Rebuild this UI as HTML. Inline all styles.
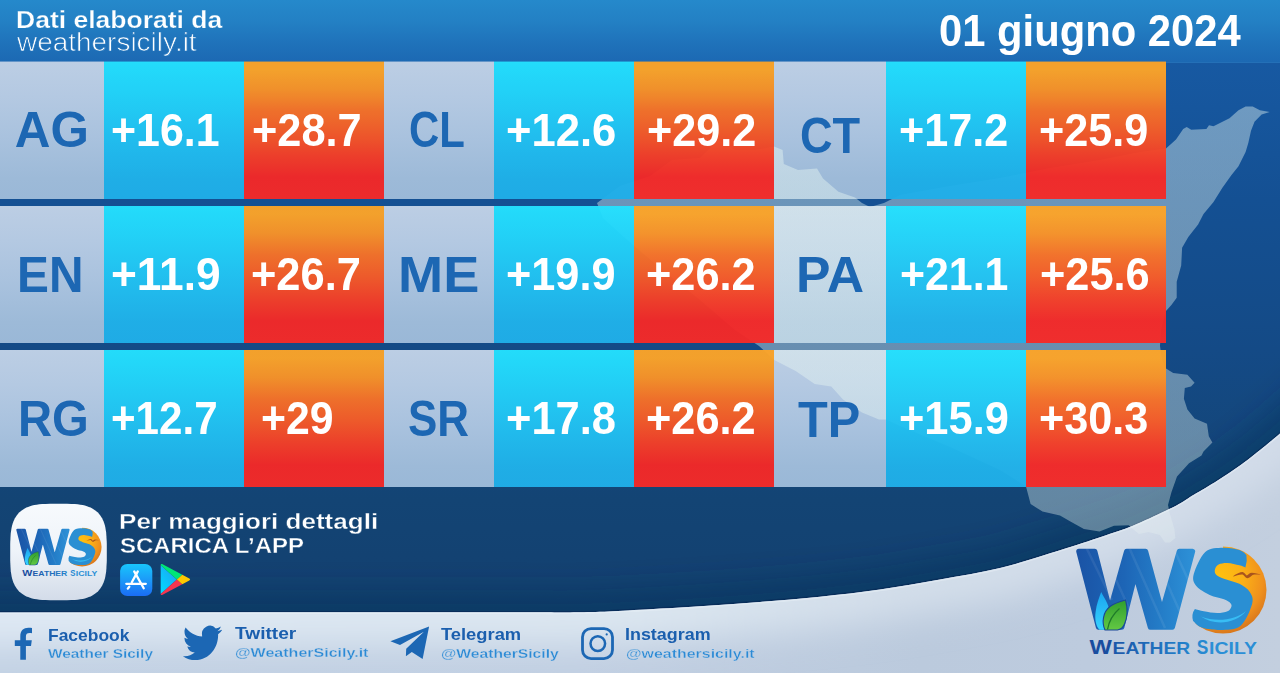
<!DOCTYPE html>
<html><head><meta charset="utf-8"><title>Weather Sicily</title>
<style>
html,body{margin:0;padding:0}
body{width:1280px;height:673px;position:relative;overflow:hidden;font-family:"Liberation Sans",sans-serif;
background:linear-gradient(180deg,#1759a2 0,#1759a2 62px,#145093 200px,#144a86 350px,#134474 500px,#134070 612px,#134070 100%)}
.abs{position:absolute;left:0;top:0}
#hdr{position:absolute;left:0;top:0;width:1280px;height:62px;border-bottom:1px solid #2470b7;background:linear-gradient(180deg,#2589cb 0,#2380c4 35%,#1f72ba 70%,#1c69b3 100%)}
.c{position:absolute;height:137px}
.c.l.r1{box-shadow:0 -1px 0 0 rgba(188,205,226,.45)}
.c.b.r1{box-shadow:0 -1px 0 0 rgba(35,220,251,.45)}
.c.o.r1{box-shadow:0 -1px 0 0 rgba(243,161,44,.45)}
.c.l{background:linear-gradient(180deg,#bccee4 0,#b4c9e2 25%,#a9c2de 55%,#9dbad8 85%,#9ab8d7 100%)}
.c.b{background:linear-gradient(180deg,#24e2ff 0,#23d7fb 20%,#22c2f2 55%,#20b2ea 85%,#20afe9 100%);opacity:0.96}
.c.o{background:linear-gradient(180deg,#fca428 0,#fca428 6%,#f99327 20%,#f77127 36%,#f65a27 52%,#f53f27 68%,#f42827 84%,#f52a28 100%);opacity:0.96}
.t{position:absolute;white-space:pre;line-height:1;font-weight:bold;transform-origin:0 0}
.lab{color:#1d67b3}
.val,.w{color:#fff}
.n{font-weight:normal}
.e1{-webkit-text-stroke:.25px #2380c4}
.e2{-webkit-text-stroke:.7px #1f73bb}
.e3{-webkit-text-stroke:.35px #134373}
.s1{color:#1b5fae}
.s2{color:#2b8ad5;-webkit-text-stroke:.3px #cad8e8}
</style></head><body>
<svg class="abs" width="1280" height="673" viewBox="0 0 1280 673">
<defs>
<linearGradient id="sw" x1="0" y1="0" x2="1280" y2="0" gradientUnits="userSpaceOnUse">
<stop offset="0" stop-color="#c3d2e4"/><stop offset=".45" stop-color="#c1cfe2"/><stop offset=".72" stop-color="#bbcadd"/><stop offset=".85" stop-color="#bdcbde"/><stop offset="1" stop-color="#c3cfdf"/></linearGradient>
<linearGradient id="gl" x1="0" y1="0" x2="1280" y2="0" gradientUnits="userSpaceOnUse"><stop offset="0" stop-color="#dfe9f4"/><stop offset=".5" stop-color="#dbe6f0"/><stop offset=".7" stop-color="#d3deea"/><stop offset="1" stop-color="#d2dce9"/></linearGradient>
<clipPath id="swc"><path d="M0,612.4 L540,612.3 C545.0,612.4 560.0,612.5 570,612.4 C580.0,612.3 588.3,612.2 600,611.8 C611.7,611.4 623.3,610.7 640,609.75 C656.7,608.8 680.0,607.5 700,606.2 C720.0,604.9 740.0,603.5 760,601.9 C780.0,600.3 800.0,598.8 820,596.7 C840.0,594.6 860.0,592.4 880,589.5 C900.0,586.6 920.0,583.1 940,579.5 C960.0,575.9 980.0,572.9 1000,568 C1020.0,563.1 1043.1,555.4 1060,550.2 C1076.9,545.0 1089.5,540.8 1101.6,536.7 C1113.7,532.6 1122.4,530.0 1132.8,525.75 C1143.2,521.5 1156.1,515.2 1164,511.5 C1171.9,507.8 1175.0,506.3 1180,503.5 C1185.0,500.7 1187.5,498.6 1193.8,494.8 C1200.1,491.0 1209.7,485.6 1217.6,480.5 C1225.5,475.4 1233.5,470.2 1241.4,464.5 C1249.3,458.8 1258.7,451.1 1265.1,446 C1271.5,440.9 1277.5,435.7 1280,433.6 L1280,673 L0,673 Z"/></clipPath>
<filter id="bl" x="-5%" y="-50%" width="110%" height="200%"><feGaussianBlur stdDeviation="17"/></filter>
<filter id="bl2" x="-5%" y="-50%" width="110%" height="200%"><feGaussianBlur stdDeviation="14"/></filter>
</defs>
<path d="M-60,612.4 L540,612.3 C545.0,612.4 560.0,612.5 570,612.4 C580.0,612.3 588.3,612.2 600,611.8 C611.7,611.4 623.3,610.7 640,609.75 C656.7,608.8 680.0,607.5 700,606.2 C720.0,604.9 740.0,603.5 760,601.9 C780.0,600.3 800.0,598.8 820,596.7 C840.0,594.6 860.0,592.4 880,589.5 C900.0,586.6 920.0,583.1 940,579.5 C960.0,575.9 980.0,572.9 1000,568 C1020.0,563.1 1043.1,555.4 1060,550.2 C1076.9,545.0 1089.5,540.8 1101.6,536.7 C1113.7,532.6 1122.4,530.0 1132.8,525.75 C1143.2,521.5 1156.1,515.2 1164,511.5 C1171.9,507.8 1175.0,506.3 1180,503.5 C1185.0,500.7 1187.5,498.6 1193.8,494.8 C1200.1,491.0 1209.7,485.6 1217.6,480.5 C1225.5,475.4 1233.5,470.2 1241.4,464.5 C1249.3,458.8 1258.7,451.1 1265.1,446 C1271.5,440.9 1277.5,435.7 1280,433.6 L1340,380" fill="none" stroke="#0c2d55" stroke-opacity=".4" stroke-width="44" filter="url(#bl2)"/>
<path d="M-60,612.4 L540,612.3 C545.0,612.4 560.0,612.5 570,612.4 C580.0,612.3 588.3,612.2 600,611.8 C611.7,611.4 623.3,610.7 640,609.75 C656.7,608.8 680.0,607.5 700,606.2 C720.0,604.9 740.0,603.5 760,601.9 C780.0,600.3 800.0,598.8 820,596.7 C840.0,594.6 860.0,592.4 880,589.5 C900.0,586.6 920.0,583.1 940,579.5 C960.0,575.9 980.0,572.9 1000,568 C1020.0,563.1 1043.1,555.4 1060,550.2 C1076.9,545.0 1089.5,540.8 1101.6,536.7 C1113.7,532.6 1122.4,530.0 1132.8,525.75 C1143.2,521.5 1156.1,515.2 1164,511.5 C1171.9,507.8 1175.0,506.3 1180,503.5 C1185.0,500.7 1187.5,498.6 1193.8,494.8 C1200.1,491.0 1209.7,485.6 1217.6,480.5 C1225.5,475.4 1233.5,470.2 1241.4,464.5 C1249.3,458.8 1258.7,451.1 1265.1,446 C1271.5,440.9 1277.5,435.7 1280,433.6 L1340,380" fill="none" stroke="#082a57" stroke-opacity=".8" stroke-width="1.8" transform="translate(0,-0.5)"/>
<path d="M0,612.4 L540,612.3 C545.0,612.4 560.0,612.5 570,612.4 C580.0,612.3 588.3,612.2 600,611.8 C611.7,611.4 623.3,610.7 640,609.75 C656.7,608.8 680.0,607.5 700,606.2 C720.0,604.9 740.0,603.5 760,601.9 C780.0,600.3 800.0,598.8 820,596.7 C840.0,594.6 860.0,592.4 880,589.5 C900.0,586.6 920.0,583.1 940,579.5 C960.0,575.9 980.0,572.9 1000,568 C1020.0,563.1 1043.1,555.4 1060,550.2 C1076.9,545.0 1089.5,540.8 1101.6,536.7 C1113.7,532.6 1122.4,530.0 1132.8,525.75 C1143.2,521.5 1156.1,515.2 1164,511.5 C1171.9,507.8 1175.0,506.3 1180,503.5 C1185.0,500.7 1187.5,498.6 1193.8,494.8 C1200.1,491.0 1209.7,485.6 1217.6,480.5 C1225.5,475.4 1233.5,470.2 1241.4,464.5 C1249.3,458.8 1258.7,451.1 1265.1,446 C1271.5,440.9 1277.5,435.7 1280,433.6 L1280,673 L0,673 Z" fill="url(#sw)"/>
<g clip-path="url(#swc)"><path d="M-60,612.4 L540,612.3 C545.0,612.4 560.0,612.5 570,612.4 C580.0,612.3 588.3,612.2 600,611.8 C611.7,611.4 623.3,610.7 640,609.75 C656.7,608.8 680.0,607.5 700,606.2 C720.0,604.9 740.0,603.5 760,601.9 C780.0,600.3 800.0,598.8 820,596.7 C840.0,594.6 860.0,592.4 880,589.5 C900.0,586.6 920.0,583.1 940,579.5 C960.0,575.9 980.0,572.9 1000,568 C1020.0,563.1 1043.1,555.4 1060,550.2 C1076.9,545.0 1089.5,540.8 1101.6,536.7 C1113.7,532.6 1122.4,530.0 1132.8,525.75 C1143.2,521.5 1156.1,515.2 1164,511.5 C1171.9,507.8 1175.0,506.3 1180,503.5 C1185.0,500.7 1187.5,498.6 1193.8,494.8 C1200.1,491.0 1209.7,485.6 1217.6,480.5 C1225.5,475.4 1233.5,470.2 1241.4,464.5 C1249.3,458.8 1258.7,451.1 1265.1,446 C1271.5,440.9 1277.5,435.7 1280,433.6 L1340,380" fill="none" stroke="url(#gl)" stroke-width="64" filter="url(#bl)"/><path d="M-60,612.4 L540,612.3 C545.0,612.4 560.0,612.5 570,612.4 C580.0,612.3 588.3,612.2 600,611.8 C611.7,611.4 623.3,610.7 640,609.75 C656.7,608.8 680.0,607.5 700,606.2 C720.0,604.9 740.0,603.5 760,601.9 C780.0,600.3 800.0,598.8 820,596.7 C840.0,594.6 860.0,592.4 880,589.5 C900.0,586.6 920.0,583.1 940,579.5 C960.0,575.9 980.0,572.9 1000,568 C1020.0,563.1 1043.1,555.4 1060,550.2 C1076.9,545.0 1089.5,540.8 1101.6,536.7 C1113.7,532.6 1122.4,530.0 1132.8,525.75 C1143.2,521.5 1156.1,515.2 1164,511.5 C1171.9,507.8 1175.0,506.3 1180,503.5 C1185.0,500.7 1187.5,498.6 1193.8,494.8 C1200.1,491.0 1209.7,485.6 1217.6,480.5 C1225.5,475.4 1233.5,470.2 1241.4,464.5 C1249.3,458.8 1258.7,451.1 1265.1,446 C1271.5,440.9 1277.5,435.7 1280,433.6 L1340,380" fill="none" stroke="#eef4fa" stroke-opacity=".4" stroke-width="1.6" transform="translate(0,0.9)"/></g>
</svg>
<div id="hdr"></div>
<div class="c l r1" style="left:0px;top:62px;width:104px"></div>
<div class="c l r1" style="left:384px;top:62px;width:110px"></div>
<div class="c l r1" style="left:774px;top:62px;width:112px"></div>
<div class="c l" style="left:0px;top:206px;width:104px"></div>
<div class="c l" style="left:384px;top:206px;width:110px"></div>
<div class="c l" style="left:774px;top:206px;width:112px"></div>
<div class="c l" style="left:0px;top:350px;width:104px"></div>
<div class="c l" style="left:384px;top:350px;width:110px"></div>
<div class="c l" style="left:774px;top:350px;width:112px"></div>
<svg class="abs" width="1280" height="673" viewBox="0 0 1280 673"><defs><linearGradient id="gm" x1="0" y1="108" x2="0" y2="543" gradientUnits="userSpaceOnUse"><stop offset="0" stop-color="#eefcf4" stop-opacity=".41"/><stop offset="1" stop-color="#eefcf4" stop-opacity=".36"/></linearGradient></defs><clipPath id="nsw"><path d="M-60,612.4 L540,612.3 C545.0,612.4 560.0,612.5 570,612.4 C580.0,612.3 588.3,612.2 600,611.8 C611.7,611.4 623.3,610.7 640,609.75 C656.7,608.8 680.0,607.5 700,606.2 C720.0,604.9 740.0,603.5 760,601.9 C780.0,600.3 800.0,598.8 820,596.7 C840.0,594.6 860.0,592.4 880,589.5 C900.0,586.6 920.0,583.1 940,579.5 C960.0,575.9 980.0,572.9 1000,568 C1020.0,563.1 1043.1,555.4 1060,550.2 C1076.9,545.0 1089.5,540.8 1101.6,536.7 C1113.7,532.6 1122.4,530.0 1132.8,525.75 C1143.2,521.5 1156.1,515.2 1164,511.5 C1171.9,507.8 1175.0,506.3 1180,503.5 C1185.0,500.7 1187.5,498.6 1193.8,494.8 C1200.1,491.0 1209.7,485.6 1217.6,480.5 C1225.5,475.4 1233.5,470.2 1241.4,464.5 C1249.3,458.8 1258.7,451.1 1265.1,446 C1271.5,440.9 1277.5,435.7 1280,433.6 L1340,380 L1340,-10 L-60,-10 Z"/></clipPath><clipPath id="swc2"><path d="M0,612.4 L540,612.3 C545.0,612.4 560.0,612.5 570,612.4 C580.0,612.3 588.3,612.2 600,611.8 C611.7,611.4 623.3,610.7 640,609.75 C656.7,608.8 680.0,607.5 700,606.2 C720.0,604.9 740.0,603.5 760,601.9 C780.0,600.3 800.0,598.8 820,596.7 C840.0,594.6 860.0,592.4 880,589.5 C900.0,586.6 920.0,583.1 940,579.5 C960.0,575.9 980.0,572.9 1000,568 C1020.0,563.1 1043.1,555.4 1060,550.2 C1076.9,545.0 1089.5,540.8 1101.6,536.7 C1113.7,532.6 1122.4,530.0 1132.8,525.75 C1143.2,521.5 1156.1,515.2 1164,511.5 C1171.9,507.8 1175.0,506.3 1180,503.5 C1185.0,500.7 1187.5,498.6 1193.8,494.8 C1200.1,491.0 1209.7,485.6 1217.6,480.5 C1225.5,475.4 1233.5,470.2 1241.4,464.5 C1249.3,458.8 1258.7,451.1 1265.1,446 C1271.5,440.9 1277.5,435.7 1280,433.6 L1280,673 L0,673 Z"/></clipPath><polygon points="597,203 620,186 650,176 672,160 700,158 718,140 735,150 755,150 774,146.5 782.6,150 783.8,164 798,170 817,168.6 823,178.6 838.4,191.7 855,197.6 862,203 870,207 884,203 900,195 950,186 1000,178 1050,168 1100,160 1140,152 1166,148.5 1176,139.6 1183.2,128.9 1186.7,127.1 1191.2,129.8 1206.4,128.9 1209,125.3 1213.5,126.2 1229.5,118.2 1238.5,110.2 1245.6,106.6 1252.7,106.6 1259.9,110.2 1269.7,111.9 1261.6,114.6 1254.5,121.7 1251,130.7 1248.3,143.1 1245.6,152 1238.5,166.3 1231.3,175.2 1222.4,187.7 1213.5,202 1203.5,213.9 1198.1,224.6 1188.3,237.1 1182.1,247.8 1181.2,265.6 1176.7,281.7 1176.7,297.7 1171.4,304.9 1166,311.1 1161,330 1160,346 1162,360 1166,368.5 1173.2,373 1187.4,374.8 1194.6,382.8 1191,386.4 1184.8,388.1 1183.9,398.8 1187.4,409.5 1194.6,418.5 1207,423.8 1208.8,436.3 1212.4,442.5 1203.5,451.4 1201.5,455.6 1189,463.3 1177,476.4 1171.5,492 1168,505 1170,514.3 1174.4,528.9 1175.4,538 1170,542.4 1165,542.4 1159.8,535 1148.4,532 1139,534 1132.8,528.9 1128.6,525.2 1114,525.75 1099.5,531.5 1083.9,528.9 1070.4,521.6 1060,515.4 1042.5,511.6 1030.6,504 1026,486.4 1000,470 950,447 900,426 886,419.6 879,419.6 862,412.5 843,399.4 831.3,386.4 814.7,384 795.7,371 774.3,360 759,346 735,330 700,300 660,268 625,238 603,218" fill="url(#gm)" clip-path="url(#nsw)"/><polygon points="597,203 620,186 650,176 672,160 700,158 718,140 735,150 755,150 774,146.5 782.6,150 783.8,164 798,170 817,168.6 823,178.6 838.4,191.7 855,197.6 862,203 870,207 884,203 900,195 950,186 1000,178 1050,168 1100,160 1140,152 1166,148.5 1176,139.6 1183.2,128.9 1186.7,127.1 1191.2,129.8 1206.4,128.9 1209,125.3 1213.5,126.2 1229.5,118.2 1238.5,110.2 1245.6,106.6 1252.7,106.6 1259.9,110.2 1269.7,111.9 1261.6,114.6 1254.5,121.7 1251,130.7 1248.3,143.1 1245.6,152 1238.5,166.3 1231.3,175.2 1222.4,187.7 1213.5,202 1203.5,213.9 1198.1,224.6 1188.3,237.1 1182.1,247.8 1181.2,265.6 1176.7,281.7 1176.7,297.7 1171.4,304.9 1166,311.1 1161,330 1160,346 1162,360 1166,368.5 1173.2,373 1187.4,374.8 1194.6,382.8 1191,386.4 1184.8,388.1 1183.9,398.8 1187.4,409.5 1194.6,418.5 1207,423.8 1208.8,436.3 1212.4,442.5 1203.5,451.4 1201.5,455.6 1189,463.3 1177,476.4 1171.5,492 1168,505 1170,514.3 1174.4,528.9 1175.4,538 1170,542.4 1165,542.4 1159.8,535 1148.4,532 1139,534 1132.8,528.9 1128.6,525.2 1114,525.75 1099.5,531.5 1083.9,528.9 1070.4,521.6 1060,515.4 1042.5,511.6 1030.6,504 1026,486.4 1000,470 950,447 900,426 886,419.6 879,419.6 862,412.5 843,399.4 831.3,386.4 814.7,384 795.7,371 774.3,360 759,346 735,330 700,300 660,268 625,238 603,218" fill="#f4fbf8" fill-opacity=".24" clip-path="url(#swc2)"/></svg>
<div class="c b r1" style="left:104px;top:62px;width:140px"></div>
<div class="c o r1" style="left:244px;top:62px;width:140px"></div>
<div class="c b r1" style="left:494px;top:62px;width:140px"></div>
<div class="c o r1" style="left:634px;top:62px;width:140px"></div>
<div class="c b r1" style="left:886px;top:62px;width:140px"></div>
<div class="c o r1" style="left:1026px;top:62px;width:140px"></div>
<div class="c b" style="left:104px;top:206px;width:140px"></div>
<div class="c o" style="left:244px;top:206px;width:140px"></div>
<div class="c b" style="left:494px;top:206px;width:140px"></div>
<div class="c o" style="left:634px;top:206px;width:140px"></div>
<div class="c b" style="left:886px;top:206px;width:140px"></div>
<div class="c o" style="left:1026px;top:206px;width:140px"></div>
<div class="c b" style="left:104px;top:350px;width:140px"></div>
<div class="c o" style="left:244px;top:350px;width:140px"></div>
<div class="c b" style="left:494px;top:350px;width:140px"></div>
<div class="c o" style="left:634px;top:350px;width:140px"></div>
<div class="c b" style="left:886px;top:350px;width:140px"></div>
<div class="c o" style="left:1026px;top:350px;width:140px"></div>
<svg class="abs" width="1280" height="673" viewBox="0 0 1280 673">
<defs>
<linearGradient id="gw" x1="1076" y1="0" x2="1196" y2="0" gradientUnits="userSpaceOnUse">
<stop offset="0" stop-color="#1a53a5"/><stop offset=".4" stop-color="#1d65b6"/><stop offset=".75" stop-color="#2580ca"/><stop offset="1" stop-color="#2e92d8"/></linearGradient>
<radialGradient id="gsun" cx="1218" cy="578" r="56" gradientUnits="userSpaceOnUse">
<stop offset="0" stop-color="#ffc20e"/><stop offset=".45" stop-color="#fbb017"/><stop offset=".8" stop-color="#f0911d"/><stop offset="1" stop-color="#d9781c"/></radialGradient>
<linearGradient id="gtx" x1="0" y1="0" x2="1" y2="0"><stop offset="0" stop-color="#1b57a9"/><stop offset="1" stop-color="#2383cc"/></linearGradient>
<linearGradient id="gleaf" x1="0" y1="600" x2="0" y2="630" gradientUnits="userSpaceOnUse">
<stop offset="0" stop-color="#2f9e2e"/><stop offset="1" stop-color="#63c843"/></linearGradient>
<linearGradient id="gdrop" x1="0" y1="592" x2="0" y2="630" gradientUnits="userSpaceOnUse">
<stop offset="0" stop-color="#1aa6f0"/><stop offset="1" stop-color="#37d3ff"/></linearGradient>
<linearGradient id="gas" x1="0" y1="0" x2="0" y2="1"><stop offset="0" stop-color="#18c6fc"/><stop offset=".5" stop-color="#1c9af8"/><stop offset="1" stop-color="#1a6cf4"/></linearGradient>
<linearGradient id="gapp" x1="0" y1="0" x2="0" y2="1"><stop offset="0" stop-color="#f7fafd"/><stop offset=".5" stop-color="#eef3f9"/><stop offset="1" stop-color="#d3dce9"/></linearGradient>
<linearGradient id="gpb" x1="0" y1="1" x2=".8" y2="0"><stop offset="0" stop-color="#00dcff"/><stop offset="1" stop-color="#1ea2f2"/></linearGradient>
<clipPath id="csun"><path d="M1223,540 L1223,556.2 C1210,556.2 1202.5,563 1202.5,573 C1202.5,583 1212,587 1223,590 C1235,593.5 1243,597 1243,606 C1243,616 1234,621.5 1222,621.5 C1212,621.5 1204,619 1198.5,614.5 L1188,645 L1280,645 L1280,540 Z"/></clipPath>
<clipPath id="cw"><path id="wp" d="M1075.4,548.8 L1096.8,548.8 L1110.0,600.5 L1124.6,548.8 L1147.6,548.8 L1162.0,602.0 L1177.3,548.8 L1196.0,548.8 L1174.4,629.8 L1148.4,629.8 L1135.4,584.0 L1123.8,629.8 L1096.4,629.8 Z"/></clipPath>
<g id="logo">
<circle cx="1223" cy="590" r="43.5" fill="url(#gsun)" clip-path="url(#csun)"/>
<path d="M1078.8,551.4 L1098.4,627.2 L1121.8,627.2 L1135.3,574.0 L1150.4,627.2 L1172.4,627.2 L1192.6,551.4 L1179.3,551.4 L1161.9,611.7 L1145.6,551.4 L1126.6,551.4 L1109.9,610.5 L1094.8,551.4 Z" fill="url(#gw)" stroke="url(#gw)" stroke-width="5.2" stroke-linejoin="round"/>
<g clip-path="url(#cw)" stroke="#fff" stroke-opacity=".07" stroke-width="2.5" fill="none">
<path d="M1085,545 L1112,600 M1100,545 L1140,632 M1128,545 L1165,628 M1150,545 L1180,612 M1172,545 L1200,605"/>
</g>
<path d="M1101.2,592 C1104,598 1109,604 1109.5,612 C1110,622 1108,627 1104,629.8 L1099.5,629.8 C1095.8,626 1094.6,619 1095.6,612 C1096.6,604 1099,598 1101.2,592 Z" fill="url(#gdrop)"/>
<path d="M1105,630 C1101.5,622 1103,612 1110,606.5 C1114.5,603 1120,601.5 1125.6,600 C1127.6,608 1127.6,617 1124.5,624 C1123,627.5 1120.5,629.5 1117.5,630 Z" fill="url(#gleaf)" stroke="#1b4796" stroke-width="1.1"/>
<path d="M1107.5,629.5 C1109,621 1113,614 1119.5,608.5" fill="none" stroke="#1f7a2a" stroke-width="1.3"/>
<path d="M1246.4,554.9 C1245.3,554.1 1243.3,551.3 1239.4,550.1 C1235.5,548.9 1228.8,547.4 1223.1,547.7 C1217.4,548.0 1210.2,547.5 1205.3,551.9 C1200.4,556.3 1195.2,568.5 1193.7,574.2 C1192.2,579.9 1193.7,582.6 1196.3,586.1 C1199.0,589.5 1205.0,592.7 1209.7,595.0 C1214.4,597.2 1221.1,598.1 1224.6,599.4 C1228.0,600.8 1229.4,601.9 1230.5,603.2 C1231.6,604.4 1231.8,605.5 1231.3,606.9 C1230.8,608.2 1229.9,610.3 1227.5,611.3 C1225.2,612.4 1221.1,613.1 1217.1,613.1 C1213.2,613.1 1207.5,612.0 1203.8,611.3 C1200.1,610.7 1196.3,609.5 1194.9,609.1 Q1191.1,614.3 1193.1,621.0  C1194.6,622.1 1197.3,626.2 1202.3,627.7 C1207.3,629.2 1216.7,630.3 1223.1,629.9 C1229.5,629.5 1236.1,629.8 1240.9,625.4 C1245.8,621.1 1250.6,609.5 1252.1,603.9 C1253.6,598.3 1251.9,595.3 1249.8,592.0 C1247.7,588.7 1243.6,586.0 1239.4,583.8 C1235.2,581.7 1228.4,580.4 1224.6,578.9 C1220.7,577.4 1218.0,576.5 1216.4,574.9 C1214.8,573.4 1214.5,571.5 1214.9,569.7 C1215.3,568.0 1216.5,565.6 1218.6,564.5 C1220.7,563.4 1224.1,562.9 1227.5,563.0 C1231.0,563.2 1236.5,564.5 1239.4,565.3 C1242.4,566.0 1244.4,567.1 1245.4,567.5 Q1247.6,561.5 1246.4,554.9 Z" fill="#2a8fd3"/>
<path d="M1201,616.5 C1214,626 1236,624 1246,611 C1236,620 1216,622.5 1201,616.5 Z" fill="#38bdf4"/>
<path d="M1232.7,576.6 C1236.5,573.6 1240,572 1242.6,572 C1244.8,572.6 1245.6,574.6 1246.8,575.6 C1248.4,574.4 1249.8,573 1251.6,572.8 C1255,572.8 1258.4,573.8 1261,574.8 C1257.8,574.6 1254.6,574.4 1252.6,575 C1250.8,576 1249.6,578 1247.4,578.2 C1245.4,578 1244.6,575.6 1242.6,574.4 C1239.6,574.2 1236,575.4 1232.7,576.6 Z" fill="#a9541d"/>
<g font-family="Liberation Sans, sans-serif" font-weight="bold">
<text transform="translate(1089.6,654.0) scale(1.1367,1)" font-size="20.87" fill="#194d9f">W</text>
<text transform="translate(1112.55,654.0) scale(1.1646,1)" font-size="16.52" fill="url(#gtx)">EATHER</text>
<text transform="translate(1196.78,654.0) scale(0.8306,1)" font-size="20.87" fill="#2789d1">S</text>
<text transform="translate(1209.04,654.0) scale(1.1775,1)" font-size="16.52" fill="#2b8fd6">ICILY</text>
</g>
</g>
</defs>
<!-- app icon -->
<path d="M106.8,552.0 L106.8,560.5 L106.6,564.8 L106.4,568.2 L106.2,571.2 L105.8,573.8 L105.4,576.2 L104.9,578.4 L104.3,580.5 L103.6,582.4 L102.9,584.1 L102.1,585.8 L101.1,587.3 L100.1,588.8 L99.1,590.1 L97.9,591.4 L96.6,592.6 L95.3,593.6 L93.8,594.6 L92.3,595.6 L90.6,596.4 L88.9,597.1 L87.0,597.8 L84.9,598.4 L82.7,598.9 L80.3,599.3 L77.7,599.7 L74.7,599.9 L71.3,600.1 L67.0,600.3 L58.5,600.3 L50.0,600.3 L45.7,600.1 L42.3,599.9 L39.3,599.7 L36.7,599.3 L34.3,598.9 L32.1,598.4 L30.0,597.8 L28.1,597.1 L26.4,596.4 L24.7,595.6 L23.2,594.6 L21.7,593.6 L20.4,592.6 L19.1,591.4 L17.9,590.1 L16.9,588.8 L15.9,587.3 L14.9,585.8 L14.1,584.1 L13.4,582.4 L12.7,580.5 L12.1,578.4 L11.6,576.2 L11.2,573.8 L10.8,571.2 L10.6,568.2 L10.4,564.8 L10.2,560.5 L10.2,552.0 L10.2,543.5 L10.4,539.2 L10.6,535.8 L10.8,532.8 L11.2,530.2 L11.6,527.8 L12.1,525.6 L12.7,523.5 L13.4,521.6 L14.1,519.9 L14.9,518.2 L15.9,516.7 L16.9,515.2 L17.9,513.9 L19.1,512.6 L20.4,511.4 L21.7,510.4 L23.2,509.4 L24.7,508.4 L26.4,507.6 L28.1,506.9 L30.0,506.2 L32.1,505.6 L34.3,505.1 L36.7,504.7 L39.3,504.3 L42.3,504.1 L45.7,503.9 L50.0,503.7 L58.5,503.7 L67.0,503.7 L71.3,503.9 L74.7,504.1 L77.7,504.3 L80.3,504.7 L82.7,505.1 L84.9,505.6 L87.0,506.2 L88.9,506.9 L90.6,507.6 L92.3,508.4 L93.8,509.4 L95.3,510.4 L96.6,511.4 L97.9,512.6 L99.1,513.9 L100.1,515.2 L101.1,516.7 L102.1,518.2 L102.9,519.9 L103.6,521.6 L104.3,523.5 L104.9,525.6 L105.4,527.8 L105.8,530.2 L106.2,532.8 L106.4,535.8 L106.6,539.2 L106.8,543.5 Z" fill="url(#gapp)"/>
<use href="#logo" transform="translate(16.2,528.3) scale(0.448) translate(-1076,-548)"/>
<!-- big logo -->
<use href="#logo"/>
<!-- app store -->
<rect x="120.1" y="563.9" width="32.2" height="32.1" rx="7.2" fill="url(#gas)"/>
<g stroke="#fff" stroke-width="2.3" stroke-linecap="round" fill="none">
<path d="M126.3,583.8 L145.8,583.8"/><path d="M137.8,571.4 L131.8,582.2"/><path d="M129.3,586.7 L127.8,588.6"/><path d="M134.2,571.4 L143.7,588.3"/>
</g>
<!-- play -->
<path d="M160.7,565.2 L160.7,593.9 L176.9,579.5 Z" fill="url(#gpb)"/>
<path d="M160.7,565.2 C160.7,564.1 161.6,563.7 162.6,564.3 L182.3,574.8 L176.9,579.5 Z" fill="#00e676"/>
<path d="M160.7,593.9 C160.7,595 161.6,595.4 162.6,594.8 L182.3,584.2 L176.9,579.5 Z" fill="#f5354f"/>
<path d="M182.3,574.8 L189.3,578.6 C190.4,579.2 190.4,579.8 189.3,580.4 L182.3,584.2 L176.9,579.5 Z" fill="#ffc800"/>
<!-- social icons -->
<g fill="#1c67b4">
<path d="M20.3,659.8 L20.3,646 L14.8,646 L14.8,640.3 L20.3,640.3 L20.3,636.3 C20.3,630.6 23.6,627.8 28.4,627.8 C29.9,627.8 31.2,627.9 32,628.1 L32,633.2 C31.4,633.1 30.6,633.1 29.7,633.1 C27,633.1 25.9,634.1 25.9,636.7 L25.9,640.3 L31.8,640.3 L31,646 L25.9,646 L25.9,659.8 Z"/>
<g transform="translate(182.9,625.8) scale(1.6333,1.754) translate(0,-2.25)">
<path d="M23.953 4.57a10 10 0 01-2.825.775 4.958 4.958 0 002.163-2.723c-.951.555-2.005.959-3.127 1.184a4.92 4.92 0 00-8.384 4.482C7.69 8.095 4.067 6.13 1.64 3.162a4.822 4.822 0 00-.666 2.475c0 1.71.87 3.213 2.188 4.096a4.904 4.904 0 01-2.228-.616v.06a4.923 4.923 0 003.946 4.827 4.996 4.996 0 01-2.212.085 4.936 4.936 0 004.604 3.417 9.867 9.867 0 01-6.102 2.105c-.39 0-.779-.023-1.17-.067a13.995 13.995 0 007.557 2.209c9.053 0 13.998-7.496 13.998-13.985 0-.21 0-.42-.015-.63A9.935 9.935 0 0024 4.59z"/>
</g>
<path d="M390.4,641.3 L429.1,626.5 L422.6,658.9 L411.8,652 L405.9,656.3 L406.2,648.8 L423.9,631.8 L400,644.9 Z"/>
</g>
<rect x="582.5" y="628.6" width="30" height="30" rx="8.5" fill="none" stroke="#1c67b4" stroke-width="2.8"/>
<circle cx="597.8" cy="643.6" r="7.3" fill="none" stroke="#1c67b4" stroke-width="2.5"/>
<circle cx="606.7" cy="634.4" r="1.1" fill="#1c67b4"/>
</svg>

<div class="t lab" style="left:14.76px;top:105.48px;font-size:49.4px;">AG</div>
<div class="t lab" style="left:408.87px;top:105.48px;font-size:49.4px;transform:scaleX(0.8487);">CL</div>
<div class="t lab" style="left:800.13px;top:111.22px;font-size:49.4px;transform:scaleX(0.9144);">CT</div>
<div class="t lab" style="left:17.08px;top:250.08px;font-size:49.4px;transform:scaleX(0.9692);">EN</div>
<div class="t lab" style="left:397.62px;top:250.08px;font-size:49.4px;transform:scaleX(1.0971);">ME</div>
<div class="t lab" style="left:796.42px;top:250.02px;font-size:49.4px;transform:scaleX(1.0471);">PA</div>
<div class="t lab" style="left:17.94px;top:394.18px;font-size:49.4px;transform:scaleX(0.9562);">RG</div>
<div class="t lab" style="left:408.15px;top:394.18px;font-size:49.4px;transform:scaleX(0.8893);">SR</div>
<div class="t lab" style="left:798.27px;top:395.02px;font-size:49.4px;transform:scaleX(0.9861);">TP</div>
<div class="t val" style="left:110.97px;top:106.97px;font-size:46.0px;transform:scaleX(0.9322);">+16.1</div>
<div class="t val" style="left:251.69px;top:106.97px;font-size:46.0px;transform:scaleX(0.9421);">+28.7</div>
<div class="t val" style="left:506.28px;top:106.97px;font-size:46.0px;transform:scaleX(0.9476);">+12.6</div>
<div class="t val" style="left:646.5px;top:106.97px;font-size:46.0px;transform:scaleX(0.9384);">+29.2</div>
<div class="t val" style="left:899.1px;top:106.97px;font-size:46.0px;transform:scaleX(0.9384);">+17.2</div>
<div class="t val" style="left:1039.1px;top:106.97px;font-size:46.0px;transform:scaleX(0.9396);">+25.9</div>
<div class="t val" style="left:110.73px;top:251.22px;font-size:46.0px;transform:scaleX(0.9629);">+11.9</div>
<div class="t val" style="left:250.89px;top:251.22px;font-size:46.0px;transform:scaleX(0.9445);">+26.7</div>
<div class="t val" style="left:506.3px;top:251.22px;font-size:46.0px;transform:scaleX(0.9404);">+19.9</div>
<div class="t val" style="left:646.29px;top:251.22px;font-size:46.0px;transform:scaleX(0.9416);">+26.2</div>
<div class="t val" style="left:899.97px;top:251.22px;font-size:46.0px;transform:scaleX(0.9314);">+21.1</div>
<div class="t val" style="left:1039.89px;top:251.22px;font-size:46.0px;transform:scaleX(0.942);">+25.6</div>
<div class="t val" style="left:111.03px;top:394.97px;font-size:46.0px;transform:scaleX(0.9163);">+12.7</div>
<div class="t val" style="left:260.58px;top:394.97px;font-size:46.0px;transform:scaleX(0.9298);">+29</div>
<div class="t val" style="left:506.29px;top:394.97px;font-size:46.0px;transform:scaleX(0.945);">+17.8</div>
<div class="t val" style="left:646.29px;top:394.97px;font-size:46.0px;transform:scaleX(0.9416);">+26.2</div>
<div class="t val" style="left:899.09px;top:394.97px;font-size:46.0px;transform:scaleX(0.9436);">+15.9</div>
<div class="t val" style="left:1039.1px;top:394.97px;font-size:46.0px;transform:scaleX(0.9394);">+30.3</div>
<div class="t w e1" style="left:15.99px;top:8.91px;font-size:23.19px;transform:scaleX(1.1431);">Dati elaborati da</div>
<div class="t w n e2" style="left:17.21px;top:30.32px;font-size:25.24px;transform:scaleX(1.1075);">weathersicily.it</div>
<div class="t w" style="left:939.29px;top:9.43px;font-size:44.64px;transform:scaleX(0.936);">01 giugno 2024</div>
<div class="t w e3" style="left:119.49px;top:509.97px;font-size:22.77px;transform:scaleX(1.1444);">Per maggiori dettagli</div>
<div class="t w e3" style="left:120.19px;top:533.52px;font-size:22.75px;transform:scaleX(1.0518);">SCARICA L’APP</div>
<div class="t s1" style="left:47.64px;top:626.87px;font-size:16.4px;transform:scaleX(1.0638);">Facebook</div>
<div class="t s2" style="left:48.0px;top:647.43px;font-size:13.3px;transform:scaleX(1.1576);">Weather Sicily</div>
<div class="t s1" style="left:235.01px;top:625.25px;font-size:16.4px;transform:scaleX(1.1674);">Twitter</div>
<div class="t s2" style="left:234.71px;top:645.81px;font-size:13.3px;transform:scaleX(1.2046);">@WeatherSicily.it</div>
<div class="t s1" style="left:441.02px;top:625.99px;font-size:16.4px;transform:scaleX(1.118);">Telegram</div>
<div class="t s2" style="left:440.79px;top:646.78px;font-size:13.3px;transform:scaleX(1.178);">@WeatherSicily</div>
<div class="t s1" style="left:624.75px;top:625.76px;font-size:16.4px;transform:scaleX(1.0926);">Instagram</div>
<div class="t s2" style="left:625.57px;top:647.66px;font-size:12.7px;transform:scaleX(1.2561);">@weathersicily.it</div>
</body></html>
